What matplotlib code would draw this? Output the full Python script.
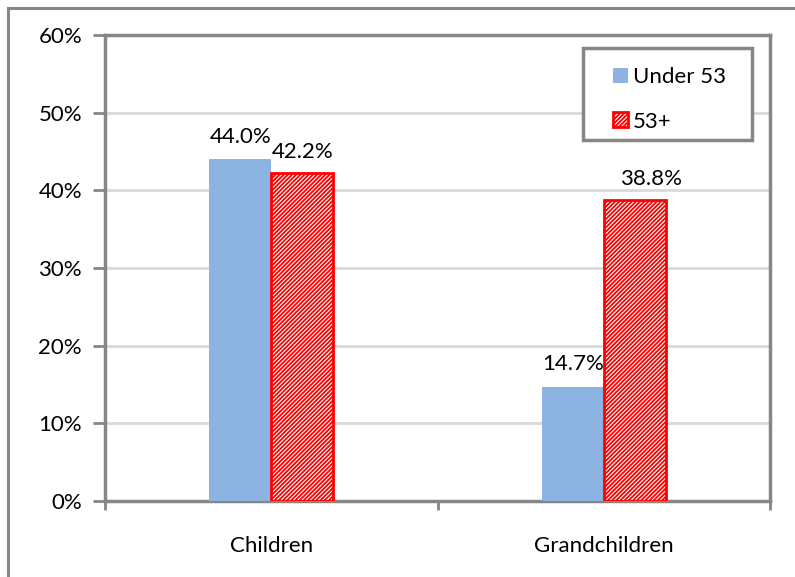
import numpy as np
import matplotlib.pyplot as plt
from matplotlib.patches import Rectangle
from matplotlib.ticker import FuncFormatter

plt.rcParams['font.family'] = ['Lato', 'DejaVu Sans']
plt.rcParams['hatch.linewidth'] = 1.3
plt.rcParams['hatch.color'] = '#ff0000'

categories = ['Children', 'Grandchildren']
under_53 = [44.0, 14.7]
over_53 = [42.2, 38.8]
series_names = ['Under 53', '53+']

blue = '#8db3e2'
red = '#ff0000'
axis_gray = '#868686'
grid_gray = '#d9d9d9'
fs = 16

fig = plt.figure(figsize=(7.95, 5.77), dpi=100)
ax = fig.add_axes([0.1321, 0.1317, 0.8365, 0.8076])

# 外框
fig.patches.append(Rectangle((8 / 795, -0.5), 2, 1.5 - 8 / 577,
                             transform=fig.transFigure, fill=False,
                             edgecolor=axis_gray, linewidth=2.2, zorder=0))

centers = np.arange(len(categories)) + 0.5
w = 0.186
b1 = ax.bar(centers - w / 2, under_53, w, color=blue, edgecolor='none',
            label=series_names[0], zorder=3)
b2 = ax.bar(centers + w / 2, over_53, w, color='white', edgecolor=red,
            hatch='////////', linewidth=2, label=series_names[1], zorder=3)

# 数据标签
for bar, v in zip(b1, under_53):
    ax.annotate(f'{v:.1f}%', (bar.get_x() + bar.get_width() / 2, v),
                xytext=(0, 9), textcoords='offset points',
                ha='center', va='bottom', fontsize=fs)
label_dx = [0, 12]
for bar, v, dx in zip(b2, over_53, label_dx):
    ax.annotate(f'{v:.1f}%', (bar.get_x() + bar.get_width() / 2, v),
                xytext=(dx, 8), textcoords='offset points',
                ha='center', va='bottom', fontsize=fs)

ax.set_xlim(0, 2)
ax.set_ylim(0, 60)
ax.set_yticks(np.arange(0, 61, 10))
ax.yaxis.set_major_formatter(FuncFormatter(lambda v, p: f'{v:.0f}%'))
ax.set_xticks([0, 1, 2])
ax.set_xticklabels([])
ax.set_xticks(centers, minor=True)
ax.set_xticklabels(categories, minor=True)
ax.tick_params(axis='x', which='major', length=6.5, width=2, color=axis_gray)
ax.tick_params(axis='x', which='minor', length=0, pad=25, labelsize=fs)
ax.tick_params(axis='y', length=8.5, width=2, color=axis_gray, pad=8,
               labelsize=fs)

ax.yaxis.grid(True, color=grid_gray, linewidth=2, zorder=0)
ax.set_axisbelow(True)
for s in ax.spines.values():
    s.set_color(axis_gray)
    s.set_linewidth(2.5)

# 图例
fig.patches.append(Rectangle((583 / 795, 1 - 140 / 577), 169 / 795, 92 / 577,
                             transform=fig.transFigure, facecolor='white',
                             edgecolor=axis_gray, linewidth=2.5, zorder=5))
leg = fig.legend(handles=[b1, b2], labels=series_names, loc='upper left',
                 bbox_to_anchor=(602 / 795, 1 - 56 / 577),
                 frameon=False, fontsize=fs,
                 handlelength=0.65, handleheight=0.65, handletextpad=0.25,
                 labelspacing=1.1, borderpad=0)
leg.set_zorder(6)

fig.savefig('out.png', dpi=100)
